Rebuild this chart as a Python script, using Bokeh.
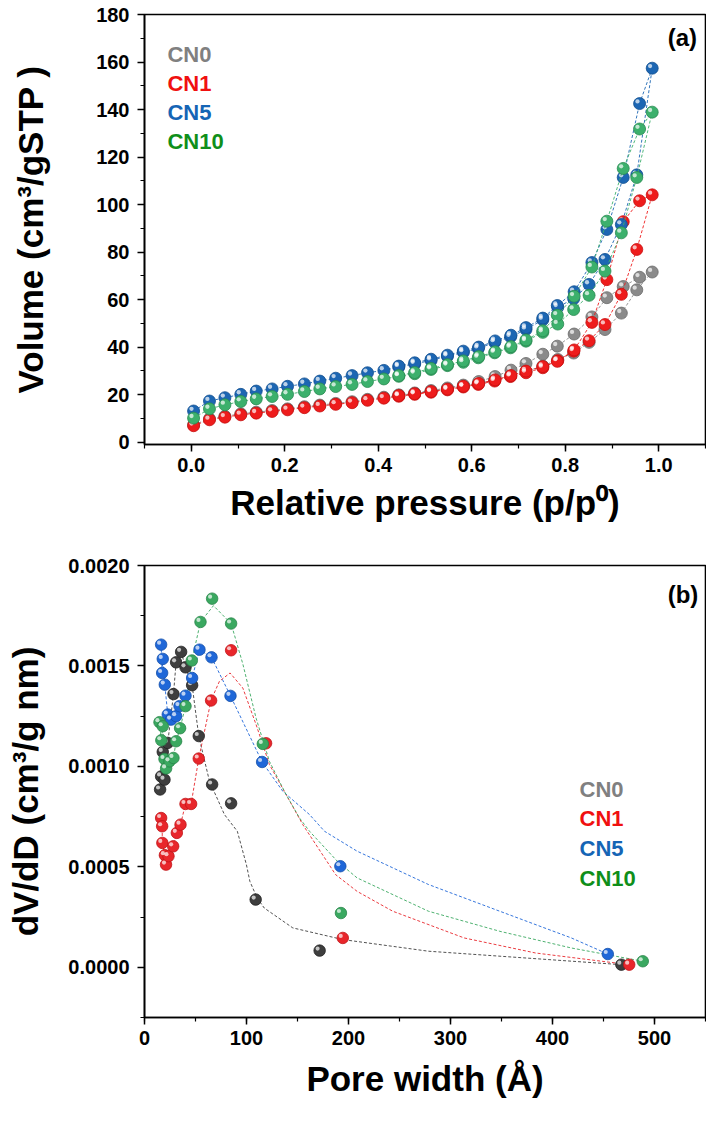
from bokeh.plotting import figure
from bokeh.layouts import column
from bokeh.models import ColumnDataSource, Label, Range1d, PrintfTickFormatter, SingleIntervalTicker
from bokeh.transform import dodge
from bokeh.embed import file_html
from bokeh.resources import INLINE

FONT = "Liberation Sans"

# ---------------- (a) N2 isotherms ----------------
series_names = ["CN0", "CN1", "CN5", "CN10"]
p_ads = [0.005, 0.039, 0.072, 0.106, 0.139, 0.173, 0.206, 0.242, 0.275, 0.309,
         0.344, 0.377, 0.412, 0.444, 0.478, 0.513, 0.548, 0.582, 0.614, 0.649,
         0.683, 0.716, 0.752, 0.784, 0.818, 0.851, 0.885, 0.920, 0.953, 0.986]
p_des = [0.959, 0.924, 0.889, 0.857, 0.819, 0.783, 0.752, 0.716, 0.684, 0.650,
         0.615, 0.582, 0.548, 0.513, 0.478, 0.444]

cn0_ads = [7.3, 9.8, 10.9, 11.9, 12.6, 13.3, 14.0, 14.9, 15.6, 16.3,
           17.0, 18.0, 18.9, 19.7, 20.5, 21.4, 22.4, 23.6, 24.7, 26.1,
           27.9, 29.8, 32.0, 34.8, 37.5, 42.0, 47.4, 54.3, 64.1, 71.6]
cn0_des = [69.4, 65.5, 60.8, 52.7, 45.5, 40.4, 37.0, 33.1, 30.3, 27.6,
           25.5, 24.0, 22.8, 21.7, 20.7, 19.9]
cn1_ads = [6.9, 9.4, 10.5, 11.5, 12.2, 12.9, 13.6, 14.5, 15.2, 15.9,
           16.6, 17.6, 18.5, 19.3, 20.1, 21.0, 22.0, 23.2, 24.3, 25.7,
           27.6, 29.2, 31.3, 34.3, 38.3, 42.7, 49.5, 62.2, 81.1, 104.1]
cn1_des = [101.6, 92.8, 68.4, 50.4, 38.8, 34.0, 31.8, 29.9, 28.0, 26.2,
           24.7, 23.5, 22.3, 21.3, 20.4, 19.6]
cn5_ads = [13.1, 17.3, 18.7, 20.1, 21.5, 22.4, 23.5, 24.5, 25.7, 26.9,
           28.0, 29.2, 30.2, 31.6, 32.9, 34.4, 36.1, 37.8, 39.4, 42.0,
           44.3, 47.4, 51.5, 56.8, 60.4, 66.4, 76.9, 91.6, 112.5, 157.4]
cn5_des = [142.5, 111.4, 89.5, 75.6, 63.3, 57.5, 52.2, 48.2, 45.0, 42.6,
           40.0, 38.3, 36.6, 34.9, 33.4, 32.0]
cn10_ads = [10.1, 14.0, 15.7, 17.1, 18.2, 19.2, 20.1, 21.3, 22.4, 23.4,
            24.3, 25.5, 26.6, 27.7, 28.8, 30.6, 32.2, 33.6, 35.5, 37.6,
            39.7, 42.5, 46.2, 49.7, 55.8, 61.8, 72.0, 88.1, 111.4, 138.9]
cn10_des = [131.8, 115.2, 93.0, 73.7, 61.4, 53.4, 46.9, 43.0, 40.2, 38.0,
            36.0, 34.2, 32.6, 31.0, 29.3, 28.0]

# ---------------- (b) BJH pore size distribution ----------------
w_cn0 = [15.3, 16.3, 17.9, 19.6, 22.8, 28.4, 31.0, 35.9, 40.2, 46.7, 53.2, 66.3, 84.9, 109.0, 171.7, 467.5]
v_cn0 = [0.000885, 0.000950, 0.001072, 0.000934, 0.001117, 0.001360, 0.001518, 0.001570, 0.001493,
         0.001404, 0.001151, 0.000910, 0.000816, 0.000337, 0.000083, 0.000013]
w_cn1 = [16.3, 17.3, 17.5, 20.0, 21.1, 23.5, 28.1, 31.7, 35.3, 40.2, 45.7, 53.2, 65.3, 84.9, 119.2, 194.4, 475.2]
v_cn1 = [0.000743, 0.000702, 0.000619, 0.000558, 0.000511, 0.000553, 0.000602, 0.000669, 0.000710,
         0.000813, 0.000813, 0.001039, 0.001328, 0.001578, 0.001115, 0.000146, 0.000013]
w_cn5 = [16.3, 17.3, 17.9, 19.9, 22.8, 26.1, 31.0, 34.3, 40.2, 46.7, 53.9, 65.7, 84.3, 115.3, 192.0, 454.2]
v_cn5 = [0.001606, 0.001465, 0.001535, 0.001407, 0.001258, 0.001233, 0.001250, 0.001300, 0.001352,
         0.001440, 0.001581, 0.001543, 0.001351, 0.001022, 0.000503, 0.000066]
w_cn10 = [14.7, 16.5, 17.9, 19.6, 21.2, 24.5, 28.4, 31.0, 34.9, 40.2, 46.4, 54.9, 66.3, 84.9, 116.0, 192.6, 488.5]
v_cn10 = [0.001220, 0.001130, 0.001200, 0.001037, 0.000990, 0.001025, 0.001042, 0.001125, 0.001190,
          0.001300, 0.001527, 0.001719, 0.001835, 0.001711, 0.001112, 0.000270, 0.000030]

# smoothed fit curves beyond the small-pore cluster
fit_cn0_w = [53.2, 63.7, 78.4, 91.0, 99.9, 103.3, 110.4, 117.4, 145.4, 194.4, 278.4, 467.5]
fit_cn0_v = [0.001151, 0.000926, 0.000760, 0.000677, 0.000511, 0.000428, 0.000345, 0.000295,
             0.000196, 0.000138, 0.000080, 0.000013]
fit_cn1_w = [53.2, 65.3, 73.5, 83.9, 96.4, 109.4, 122.5, 138.8, 155.2, 187.4, 208.4, 243.4, 313.4, 383.5, 475.2]
fit_cn1_v = [0.001039, 0.001330, 0.001424, 0.001465, 0.001390, 0.001208, 0.001009, 0.000860, 0.000710,
             0.000461, 0.000378, 0.000279, 0.000146, 0.000071, 0.000013]
fit_cn5_w = [53.9, 65.7, 84.3, 115.3, 135.6, 161.8, 176.5, 208.4, 278.4, 348.3, 418.5, 454.2]
fit_cn5_v = [0.001581, 0.001543, 0.001351, 0.001022, 0.000876, 0.000760, 0.000677, 0.000578, 0.000412,
             0.000279, 0.000146, 0.000066]
fit_cn10_w = [54.9, 67.6, 84.9, 96.4, 109.4, 122.5, 138.8, 152.0, 161.8, 189.0, 208.4, 278.4, 348.4, 418.5, 488.5]
fit_cn10_v = [0.001719, 0.001800, 0.001711, 0.001510, 0.001240, 0.001025, 0.000860, 0.000743, 0.000677,
              0.000528, 0.000445, 0.000279, 0.000179, 0.000096, 0.000030]

legend_colors = ["#808080", "#f01010", "#1565b5", "#0f8f1a"]
top_fill = ["#8a8a8a", "#ee1c1c", "#1c66b3", "#3cb06c"]
top_edge = ["#6a6a6a", "#c80f0f", "#124f8f", "#2a8a52"]
bot_fill = ["#3e3e3e", "#e8262b", "#1f67d8", "#3aa860"]
bot_edge = ["#222222", "#c01418", "#1550aa", "#2a854a"]


def style(p, xint, yint, xfmt, yfmt):
    p.xgrid.visible = False
    p.ygrid.visible = False
    p.outline_line_color = "black"
    p.outline_line_width = 1.6
    p.outline_line_alpha = 1.0
    p.background_fill_color = "white"
    p.border_fill_color = "white"
    p.xaxis[0].ticker = SingleIntervalTicker(interval=xint, num_minor_ticks=2)
    p.yaxis[0].ticker = SingleIntervalTicker(interval=yint, num_minor_ticks=2)
    p.xaxis[0].formatter = PrintfTickFormatter(format=xfmt)
    p.yaxis[0].formatter = PrintfTickFormatter(format=yfmt)
    for ax in (p.xaxis[0], p.yaxis[0]):
        ax.axis_line_width = 1.6
        ax.axis_line_color = "black"
        ax.major_tick_line_width = 1.5
        ax.minor_tick_line_width = 1.2
        ax.major_tick_in = 0
        ax.major_tick_out = 7
        ax.minor_tick_in = 0
        ax.minor_tick_out = 4
        ax.major_label_text_font = FONT
        ax.major_label_text_font_style = "bold"
        ax.major_label_text_font_size = "20px"
        ax.major_label_text_color = "black"
        ax.axis_label_text_font = FONT
        ax.axis_label_text_font_style = "bold"
        ax.axis_label_text_font_size = "35px"
        ax.axis_label_text_color = "black"


def spheres(p, xs, ys, fill, edge, size, dx, dy):
    src = ColumnDataSource(dict(x=xs, y=ys))
    p.scatter("x", "y", source=src, size=size, fill_color=fill, line_color=edge, line_width=0.8)
    p.scatter(x=dodge("x", dx), y=dodge("y", dy), source=src, size=size * 0.36,
              fill_color="white", fill_alpha=0.7, line_color=None)


# ---------- panel (a) ----------
p1 = figure(width=706, height=545, x_range=Range1d(-0.1, 1.1), y_range=Range1d(-1, 180),
            output_backend="svg", toolbar_location=None,
            min_border_left=144, min_border_right=1, min_border_top=14, min_border_bottom=101)
style(p1, 0.2, 20, "%.1f", "%d")
p1.xaxis[0].axis_label = "Relative pressure (p/p\u2070)"
p1.yaxis[0].axis_label = "Volume (cm\u00b3/gSTP )"
p1.xaxis[0].major_label_standoff = 6
p1.xaxis[0].axis_label_standoff = 8
p1.yaxis[0].major_label_standoff = 8
p1.yaxis[0].axis_label_standoff = 43

iso = [(cn0_ads, cn0_des), (cn1_ads, cn1_des), (cn5_ads, cn5_des), (cn10_ads, cn10_des)]
for i, (ads, des) in enumerate(iso):
    xs = p_ads + p_des
    ys = ads + des
    p1.line(xs, ys, line_color=top_fill[i], line_width=0.9, line_dash="3 2")
    spheres(p1, xs, ys, top_fill[i], top_edge[i], 12, -0.0045, 0.9)

leg_y_a = [163.3, 151.1, 138.6, 126.4]
for name, col, yy in zip(series_names, legend_colors, leg_y_a):
    p1.add_layout(Label(x=-0.051, y=yy, text=name, text_color=col, text_font=FONT,
                        text_font_style="bold", text_font_size="22px", text_baseline="middle"))
p1.add_layout(Label(x=1.082, y=170.4, text="(a)", text_color="black", text_font=FONT,
                    text_font_style="bold", text_font_size="24px", text_baseline="middle",
                    text_align="right"))

# ---------- panel (b) ----------
p2 = figure(width=706, height=563, x_range=Range1d(0, 550), y_range=Range1d(-0.00025, 0.0020),
            output_backend="svg", toolbar_location=None,
            min_border_left=144, min_border_right=1, min_border_top=20, min_border_bottom=91)
style(p2, 100, 0.0005, "%d", "%.4f")
p2.xaxis[0].axis_label = "Pore width (\u00c5)"
p2.yaxis[0].axis_label = "dV/dD (cm\u00b3/g nm)"
p2.xaxis[0].major_label_standoff = 6
p2.xaxis[0].axis_label_standoff = 11
p2.yaxis[0].major_label_standoff = 8
p2.yaxis[0].axis_label_standoff = 20

psd = [(w_cn0, v_cn0, fit_cn0_w, fit_cn0_v), (w_cn1, v_cn1, fit_cn1_w, fit_cn1_v),
       (w_cn5, v_cn5, fit_cn5_w, fit_cn5_v), (w_cn10, v_cn10, fit_cn10_w, fit_cn10_v)]
for i, (w, v, fw, fv) in enumerate(psd):
    lx = [a for a in w if a < 50] + fw
    ly = [b for a, b in zip(w, v) if a < 50] + fv
    p2.line(lx, ly, line_color=bot_fill[i], line_width=0.9, line_dash="3 2")
for i, (w, v, fw, fv) in enumerate(psd):
    spheres(p2, w, v, bot_fill[i], bot_edge[i], 11.5, -2.0, 0.000010)

leg_y_b = [0.000885, 0.000740, 0.000590, 0.000440]
for name, col, yy in zip(series_names, legend_colors, leg_y_b):
    p2.add_layout(Label(x=426.5, y=yy, text=name, text_color=col, text_font=FONT,
                        text_font_style="bold", text_font_size="22px", text_baseline="middle"))
p2.add_layout(Label(x=543, y=0.001856, text="(b)", text_color="black", text_font=FONT,
                    text_font_style="bold", text_font_size="24px", text_baseline="middle",
                    text_align="right"))

layout = column(p1, p2)
open("out.html", "w").write(file_html(layout, INLINE))
